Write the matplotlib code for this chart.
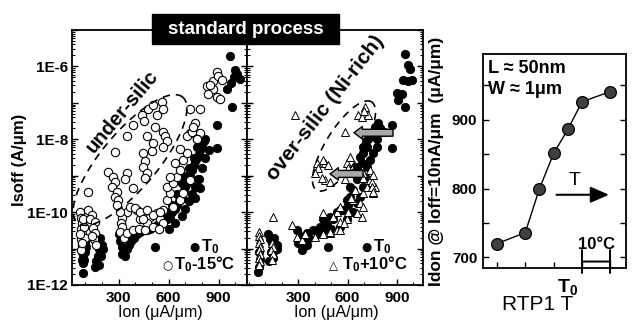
import numpy as np
import matplotlib
matplotlib.use('Agg')
import matplotlib.pyplot as plt
from matplotlib.ticker import LogLocator, FuncFormatter, MultipleLocator, NullFormatter, FixedLocator
from matplotlib.patches import Rectangle

plt.rcParams['font.family'] = ['Liberation Sans', 'DejaVu Sans']
plt.rcParams['mathtext.fontset'] = 'custom'
plt.rcParams['mathtext.rm'] = 'Liberation Sans'
plt.rcParams['mathtext.bf'] = 'Liberation Sans:bold'
plt.rcParams['mathtext.it'] = 'Liberation Sans:italic'

# ---------------- data: (Ion [uA/um], log10 Isoff [A/um]) ----------------
left_T0 = [
    (80, -10.7), (85, -10.85), (90, -11.0), (95, -10.9), (80, -11.1), (88, -11.2), (92, -11.3),
    (85, -11.4), (100, -11.1), (105, -10.95), (84, -11.67), (78, -11.3), (96, -10.8),
    (150, -10.6), (160, -10.75), (170, -10.9), (180, -11.0), (190, -11.05), (200, -10.9), (175, -11.2),
    (165, -11.35), (160, -11.5), (185, -10.7), (205, -11.0), (195, -11.2), (180, -11.45),
    (300, -10.6), (310, -10.8), (320, -10.95), (330, -11.05), (340, -11.2), (360, -10.9), (375, -10.8),
    (350, -11.0), (320, -11.15), (365, -10.7),
    (516, -10.95),
    (390, -10.7), (410, -10.6), (430, -10.55), (450, -10.5), (470, -10.5), (490, -10.45), (510, -10.4),
    (530, -10.35), (550, -10.3), (570, -10.25), (590, -10.2), (610, -10.15), (620, -10.0), (640, -9.9),
    (650, -9.8), (660, -9.7), (680, -9.6), (690, -9.4), (700, -9.3), (710, -9.2), (720, -9.1), (730, -9.0),
    (740, -8.85), (750, -8.7), (760, -8.6), (770, -8.5), (780, -8.4), (790, -8.3), (800, -8.2),
    (810, -8.05), (820, -8.0),
    (600, -10.45), (640, -10.3), (680, -10.1), (700, -9.9), (720, -9.7), (740, -9.5), (760, -9.3),
    (780, -9.1), (800, -8.8), (820, -8.5), (840, -8.3), (760, -9.6), (790, -9.35),
    (560, -10.1), (600, -10.0), (620, -9.8), (650, -9.5), (680, -9.2), (700, -9.0), (720, -8.8),
    (750, -8.5), (770, -8.2), (790, -8.0),
    (774, -9.1), (888, -8.23), (888, -7.6),
    (966, -5.72), (1000, -6.1), (1026, -6.35), (990, -6.3), (975, -6.45), (950, -6.63), (978, -7.1), (1010, -6.2),
]

left_T0m15 = [
    (70, -10.0), (75, -10.15), (80, -10.3), (72, -10.45), (78, -10.6), (74, -10.75), (80, -10.9),
    (76, -11.05), (90, -10.4), (95, -10.7), (85, -10.2), (70, -10.6), (82, -10.85),
    (114, -9.44), (114, -9.94), (138, -10.07), (126, -10.2), (156, -10.26), (144, -10.43), (156, -10.58),
    (150, -10.75), (165, -10.9), (140, -10.65),
    (234, -8.9), (264, -9.03), (276, -9.17), (258, -9.3), (288, -9.44), (276, -9.58), (294, -9.66),
    (290, -9.8), (348, -8.92), (336, -9.1), (384, -9.33), (276, -8.34),
    (348, -10.0), (318, -10.15), (306, -10.0), (315, -10.3), (320, -10.4), (310, -10.55), (330, -10.7),
    (348, -10.57), (384, -10.49),
    (348, -7.92), (384, -7.62), (438, -7.32), (474, -7.18), (504, -7.07), (528, -7.32), (558, -6.99),
    (564, -7.18), (516, -7.65), (468, -7.92), (450, -7.5),
    (444, -8.37), (456, -8.6), (444, -8.75), (468, -8.92), (456, -9.06), (498, -8.33), (504, -8.1),
    (564, -7.79), (576, -7.92), (588, -8.06), (564, -8.2),
    (726, -7.18), (786, -7.18), (756, -7.54), (786, -7.82), (726, -7.82), (768, -8.0),
    (828, -6.55), (864, -6.63), (834, -6.77), (888, -6.83), (906, -6.9), (864, -6.41), (888, -6.14),
    (894, -6.27), (918, -6.36), (850, -6.5),
    (366, -9.85), (408, -9.94), (444, -10.03), (486, -10.12), (528, -10.03), (426, -10.2), (468, -10.3),
    (504, -10.4), (546, -10.2), (564, -9.94), (588, -9.66), (606, -9.47), (588, -9.3), (624, -9.2),
    (648, -9.03), (606, -9.03), (666, -8.84), (636, -8.65), (684, -8.56), (708, -8.37), (666, -8.28),
    (708, -7.92), (738, -7.79), (768, -8.0), (744, -7.65), (564, -10.3), (624, -9.85), (666, -9.66),
    (684, -9.47), (726, -9.11), (420, -10.45), (460, -10.5), (540, -10.45),
    (396, -9.88), (426, -10.0), (468, -9.94), (504, -10.07), (546, -10.0), (444, -10.2),
]

mid_T0 = [
    (55, -11.64), (60, -11.5), (70, -11.3), (62, -11.1),
    (120, -10.6), (130, -10.75), (140, -10.85), (150, -10.95), (160, -11.05), (170, -10.9), (135, -11.1),
    (145, -11.25), (125, -11.35), (155, -10.7), (175, -11.0),
    (294, -10.5), (310, -10.65), (324, -11.04), (354, -10.9), (340, -10.8), (330, -10.95), (365, -10.7),
    (300, -10.85),
    (482, -10.95),
    (354, -10.57), (390, -10.49), (433, -10.4), (476, -10.3), (512, -10.2), (536, -10.0), (573, -9.94),
    (603, -9.8), (615, -9.58), (633, -9.39), (658, -9.1), (676, -8.92), (688, -8.65), (694, -8.37),
    (718, -8.2), (724, -8.0), (748, -7.82), (766, -7.65), (785, -7.54),
    (555, -10.4), (597, -10.2), (633, -10.0), (658, -9.75), (676, -9.58), (694, -9.3), (706, -9.03),
    (718, -8.75), (736, -8.56), (755, -8.37), (779, -8.2), (779, -8.0), (420, -10.6), (460, -10.5),
    (500, -10.45),
    (452, -10.2), (494, -10.12), (555, -9.94), (597, -9.66), (615, -9.3), (633, -8.92), (658, -8.75),
    (676, -8.48), (694, -8.2), (740, -7.9), (710, -8.05),
    (870, -8.23), (870, -7.6), (800, -7.7), (820, -7.8),
    (948, -5.67), (966, -5.95), (979, -6.08), (991, -6.36), (936, -6.36), (966, -6.41), (900, -6.72),
    (930, -6.77), (906, -6.91), (948, -7.1),
]

mid_T0p10 = [
    (65, -10.55), (62, -10.65), (68, -10.75), (64, -10.85), (66, -10.95), (63, -11.05), (67, -11.15),
    (64, -11.25), (66, -11.35), (65, -11.45),
    (140, -10.85), (150, -10.95), (135, -11.05), (145, -11.15), (140, -11.3), (148, -10.12),
    (264, -10.35), (294, -10.68), (324, -10.76), (403, -10.68), (340, -10.6),
    (494, -10.57), (536, -10.49), (555, -10.26), (597, -10.2), (536, -10.0), (603, -10.0), (555, -9.85),
    (633, -9.66), (676, -9.75), (688, -10.12), (694, -9.47), (718, -9.3), (736, -9.11), (755, -9.3),
    (694, -8.92), (736, -8.84), (645, -9.39), (452, -10.03), (512, -10.12), (658, -10.03), (694, -9.85),
    (555, -10.49), (494, -10.55), (452, -10.6), (755, -9.47), (766, -9.3), (748, -9.17), (755, -8.97),
    (620, -9.6), (580, -10.3),
    (282, -7.32), (585, -7.79),
    (415, -8.65), (464, -8.65), (421, -8.78), (403, -8.92), (464, -9.11), (494, -9.17), (452, -8.56),
    (482, -8.7), (445, -9.06),
    (597, -8.65), (615, -8.48), (603, -8.78), (585, -9.1),
    (694, -9.06), (748, -9.3), (755, -9.44),
    (706, -7.1), (664, -7.32), (688, -7.4), (724, -7.32), (700, -7.22),
]

rtp_T = [-25, -15, -10, -5, 0, 5, 15]          # RTP1 temperature relative to T0 (degC)
idon = [720, 736, 800, 851, 886, 926, 941]     # uA/um

# ---------------- figure ----------------
W, H = 638, 324
fig = plt.figure(figsize=(W / 100, H / 100), dpi=100)
axL = fig.add_axes([72 / W, 1 - 285 / H, 175 / W, 255 / H])
axM = fig.add_axes([247 / W, 1 - 285 / H, 176 / W, 255 / H])
axR = fig.add_axes([483 / W, 1 - 268 / H, 143 / W, 214 / H])

bold = dict(fontweight='bold')
sym = dict(family='DejaVu Sans')


def arr(pts):
    a = np.array(pts, dtype=float)
    return a[:, 0], 10 ** a[:, 1]


msz = 6
x, y = arr(left_T0)
axL.plot(x, y, 'o', color='black', ms=msz, mew=0.6, zorder=3)
x, y = arr(left_T0m15)
axL.plot(x, y, 'o', mfc='white', mec='black', ms=msz, mew=0.8, zorder=4)
x, y = arr(mid_T0)
axM.plot(x, y, 'o', color='black', ms=msz, mew=0.6, zorder=3)
x, y = arr(mid_T0p10)
axM.plot(x, y, '^', mfc='white', mec='black', ms=6, mew=0.7, zorder=4)


def efmt(v, pos):
    e = int(round(np.log10(v)))
    return f'1E{e}' if e % 2 == 0 else ''


for ax in (axL, axM):
    ax.set_yscale('log')
    ax.set_ylim(1e-12, 1e-5)
    ax.yaxis.set_major_locator(LogLocator(base=10, numticks=20))
    ax.yaxis.set_minor_locator(LogLocator(base=10, subs=np.arange(2, 10), numticks=20))
    ax.yaxis.set_minor_formatter(NullFormatter())
    ax.xaxis.set_major_locator(MultipleLocator(300))
    ax.xaxis.set_minor_locator(MultipleLocator(100))
    ax.tick_params(which='both', direction='in', left=True, right=True, top=False, bottom=True)
    ax.tick_params(which='major', length=4, width=1.0, labelsize=11, pad=4)
    ax.tick_params(which='minor', length=2.5, width=0.8)
    for s in ax.spines.values():
        s.set_linewidth(1.3)

axL.set_xlim(20, 1070)
axM.set_xlim(-10, 1058)
axL.set_xticks([300, 600, 900])
axM.set_xticks([300, 600, 900])
axL.yaxis.set_major_formatter(FuncFormatter(efmt))
axL.tick_params(axis='y', pad=3)
axM.tick_params(axis='y', labelleft=False)
for ax in (axL, axM):
    for lab in ax.get_xticklabels() + ax.get_yticklabels():
        lab.set_fontweight('bold')


def dashed_ellipse(ax, cx, cy, a, b, ang):
    w = ax.get_position().width * W
    h = ax.get_position().height * H
    t = np.linspace(0, 2 * np.pi, 240)
    th = np.deg2rad(ang)
    px = cx + a * np.cos(t) * np.cos(th) - b * np.sin(t) * np.sin(th)
    py = cy + a * np.cos(t) * np.sin(th) + b * np.sin(t) * np.cos(th)
    ax.plot(px / w, py / h, transform=ax.transAxes, color='black', lw=1.2,
            dashes=(4.5, 3.5), zorder=5, clip_on=False)


dashed_ellipse(axL, 58, 125, 82, 28, 50)
dashed_ellipse(axM, 97, 139, 52, 18, 58)

axL.text(0.285, 0.68, 'under-silic', transform=axL.transAxes, rotation=50, rotation_mode='anchor',
         ha='center', va='center', fontsize=14.5, zorder=6, **bold)
axM.text(0.443, 0.694, 'over-silic (Ni-rich)', transform=axM.transAxes, rotation=52,
         rotation_mode='anchor', ha='center', va='center', fontsize=15, zorder=6, **bold)

# gray arrows
for tail, head in (((876, 10 ** -7.82), (639, 10 ** -7.82)), ((694, 10 ** -8.95), (494, 10 ** -8.95))):
    axM.annotate('', xy=head, xytext=tail,
                 arrowprops=dict(arrowstyle='simple,head_width=0.9,head_length=0.6,tail_width=0.5',
                                 fc='#a8a8a8', ec='black', lw=1.0, mutation_scale=10,
                                 shrinkA=0, shrinkB=0), zorder=7)


# legend-like labels (symbol + text)
def key(ax, x0, sym_char, xt, yb, label):
    ax.text(x0, yb, sym_char, transform=ax.transAxes, ha='left', va='baseline', fontsize=8.5,
            zorder=6, **sym)
    ax.text(xt, yb, label, transform=ax.transAxes, ha='left', va='baseline', fontsize=12,
            zorder=6, **bold)


key(axL, (189 - 72) / 175, '●', (201 - 72) / 175, (285 - 251) / 255, '$\\mathbf{T_0}$')
key(axL, (162 - 72) / 175, '○', (174 - 72) / 175, (285 - 269) / 255, '$\\mathbf{T_0}$-15°C')
key(axM, (361 - 247) / 176, '●', (373 - 247) / 176, (285 - 251) / 255, '$\\mathbf{T_0}$')
key(axM, (329 - 247) / 176, '△', (342 - 247) / 176, (285 - 269) / 255, '$\\mathbf{T_0}$+10°C')

fig.text(160 / W, 1 - 313 / H, 'Ion (μA/μm)', ha='center', va='center', fontsize=11.5)
fig.text(336 / W, 1 - 313 / H, 'Ion (μA/μm)', ha='center', va='center', fontsize=11.5)
fig.text(20 / W, 1 - 160 / H, 'Isoff (A/μm)', ha='center', va='center', rotation=90,
         fontsize=12, **bold)

# title box
fig.add_artist(Rectangle((152 / W, 1 - 44 / H), 187 / W, 30 / H, transform=fig.transFigure,
                         facecolor='black', edgecolor='black', zorder=20))
fig.text(245.5 / W, 1 - 29.5 / H, 'standard process', ha='center', va='center', color='white',
         fontsize=13.5, zorder=21, **bold)

# ---------------- right panel ----------------
axR.plot(rtp_T, idon, '-', color='black', lw=1.0, zorder=3)
axR.plot(rtp_T, idon, 'o', mfc='#404040', mec='black', ms=8.5, mew=0.9, zorder=4)
axR.set_xlim(-29.9, 20.5)
axR.set_ylim(684.6, 995.5)
axR.yaxis.set_major_locator(FixedLocator([700, 800, 900]))
axR.yaxis.set_minor_locator(FixedLocator([750, 850, 950]))
axR.xaxis.set_major_locator(FixedLocator([-25, -15, -5, 5, 15]))
axR.set_xticklabels([''] * 5)
axR.tick_params(which='both', direction='in', left=True, right=True, top=False, bottom=True)
axR.tick_params(which='major', length=4, width=1.0, labelsize=11, pad=4)
axR.tick_params(which='minor', length=4, width=1.0)
for s in axR.spines.values():
    s.set_linewidth(1.3)
for lab in axR.get_yticklabels():
    lab.set_fontweight('bold')

axR.text(0, -0.04, '$\\mathbf{T_0}$', transform=axR.get_xaxis_transform(), ha='center', va='top',
         fontsize=14, **bold)
fig.text(538 / W, 1 - 304 / H, 'RTP1 T', ha='center', va='center', fontsize=15)
fig.text(437 / W, 1 - 161 / H, 'Idon @ Ioff=10nA/μm  (μA/μm)', ha='center', va='center',
         rotation=90, fontsize=12.5, **bold)

axR.text(0.035, 0.93, 'L ≈ 50nm', transform=axR.transAxes, ha='left', va='center', fontsize=13, **bold)
axR.text(0.035, 0.835, 'W ≈ 1μm', transform=axR.transAxes, ha='left', va='center', fontsize=13, **bold)

axR.annotate('', xy=(14.5, 791), xytext=(-4, 791),
             arrowprops=dict(arrowstyle='-|>,head_length=0.8,head_width=0.35', color='black', lw=1.5,
                             mutation_scale=14, shrinkA=0, shrinkB=0))
axR.text(2.5, 812, 'T', ha='center', va='center', fontsize=14)
axR.annotate('', xy=(15, 694), xytext=(5, 694),
             arrowprops=dict(arrowstyle='|-|,widthA=0.8,widthB=0.8', color='black', lw=1.4,
                             mutation_scale=10, shrinkA=0, shrinkB=0))
axR.text(10, 719, '10°C', ha='center', va='center', fontsize=12, **bold)

fig.savefig('out.png', dpi=100)
